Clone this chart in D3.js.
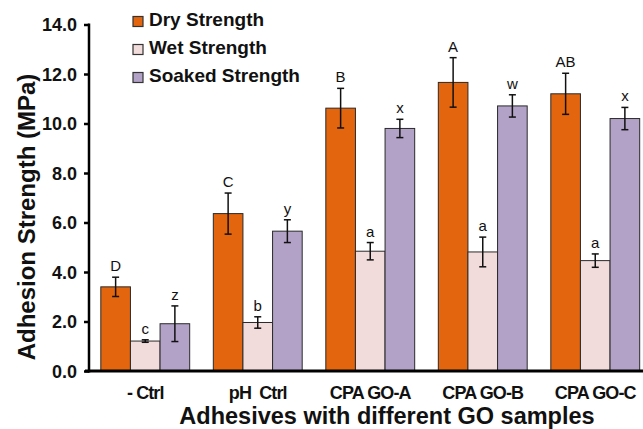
<!DOCTYPE html>
<html>
<head>
<meta charset="utf-8">
<script src="https://d3js.org/d3.v7.min.js"></script>
<style>
  body { margin: 0; background: #fff; }
  text { font-family: "Liberation Sans", Arial, sans-serif; }
</style>
</head>
<body>
<script>
    // data
    var samples = ["- Ctrl", "pH  Ctrl", "CPA GO-A", "CPA GO-B", "CPA GO-C"];
    var seriesNames = ["Dry Strength", "Wet Strength", "Soaked Strength"];
    var seriesKeys = ["dry", "wet", "soaked"];
    var colors = ["#E3650D", "#F2DCDB", "#B3A2C7"];

    var dryVals = [3.40, 6.36, 10.62, 11.66, 11.20];
    var dryErr = [0.39, 0.83, 0.80, 1.00, 0.83];
    var dryLetters = ["D", "C", "B", "A", "AB"];

    var wetVals = [1.21, 1.96, 4.84, 4.81, 4.46];
    var wetErr = [0.05, 0.23, 0.35, 0.60, 0.27];
    var wetLetters = ["c", "b", "a", "a", "a"];

    var soakVals = [1.91, 5.65, 9.80, 10.71, 10.20];
    var soakErr = [0.72, 0.46, 0.37, 0.45, 0.45];
    var soakLetters = ["z", "y", "x", "w", "x"];

    var yTicks = [0, 2, 4, 6, 8, 10, 12, 14];

    var svgWidth = 643, svgHeight = 429;
    var originX = 89, originY = 371, topY = 24.5;

    var values = [dryVals, wetVals, soakVals];
    var errs = [dryErr, wetErr, soakErr];
    var letters = [dryLetters, wetLetters, soakLetters];

    // flat table for drawing
    var rows = [];
    samples.forEach(function (s, i) {
        seriesKeys.forEach(function (k, j) {
            rows.push({sample: s, key: k, v: values[j][i], e: errs[j][i], lab: letters[j][i], c: colors[j]});
        });
    });

    var svg = d3.select("body").append("svg")
        .attr("width", svgWidth)
        .attr("height", svgHeight);

    var x0 = d3.scaleBand().domain(samples).range([originX, originX + 5 * 112.5])
        .paddingInner(0.21).paddingOuter(0.105);
    var x1 = d3.scaleBand().domain(seriesKeys).range([0, x0.bandwidth()]);
    var y = d3.scaleLinear().domain([0, 14]).range([originY, topY]);

    // bars
    var bars = svg.append("g");
    bars.selectAll("rect").data(rows).enter().append("rect")
        .attr("x", function (d) { return x0(d.sample) + x1(d.key); })
        .attr("y", function (d) { return y(d.v); })
        .attr("width", x1.bandwidth())
        .attr("height", function (d) { return y(0) - y(d.v); })
        .style("fill", function (d) { return d.c; })
        .style("stroke", "#2a2a2a")
        .style("stroke-width", 1);

    // error bars
    var eb = svg.append("g").style("stroke", "#111").style("stroke-width", 1.5);
    rows.forEach(function (d) {
        var cx = x0(d.sample) + x1(d.key) + x1.bandwidth() / 2;
        eb.append("line").attr("x1", cx).attr("x2", cx).attr("y1", y(d.v + d.e)).attr("y2", y(d.v - d.e));
        eb.append("line").attr("x1", cx - 3.5).attr("x2", cx + 3.5).attr("y1", y(d.v + d.e)).attr("y2", y(d.v + d.e));
        eb.append("line").attr("x1", cx - 3.5).attr("x2", cx + 3.5).attr("y1", y(d.v - d.e)).attr("y2", y(d.v - d.e));
    });

    // significance letters
    svg.append("g").selectAll("text").data(rows).enter().append("text")
        .attr("x", function (d) { return x0(d.sample) + x1(d.key) + x1.bandwidth() / 2; })
        .attr("y", function (d) { return y(d.v + d.e) - 6; })
        .attr("text-anchor", "middle")
        .style("font-size", "15px")
        .style("fill", "#111")
        .text(function (d) { return d.lab; });

    // y axis
    var yAxis = d3.axisLeft(y).tickValues(yTicks).tickFormat(d3.format(".1f")).tickSize(5).tickPadding(7);
    var yg = svg.append("g").attr("transform", "translate(" + originX + ",0)").call(yAxis);
    yg.select(".domain").remove();
    yg.selectAll(".tick line").style("stroke", "#000").style("stroke-width", 2.5);
    yg.selectAll(".tick text").style("font-size", "18px").style("font-weight", "bold").style("fill", "#111")
        .attr("dy", "0.36em");
    svg.append("line").attr("x1", originX).attr("x2", originX).attr("y1", topY - 1).attr("y2", originY + 1.5)
        .style("stroke", "#000").style("stroke-width", 2.5);

    // x axis
    var xAxis = d3.axisBottom(x0).tickSize(0).tickPadding(15);
    var xg = svg.append("g").attr("transform", "translate(0," + originY + ")").call(xAxis);
    xg.select(".domain").remove();
    xg.selectAll(".tick text").style("font-size", "18px").style("font-weight", "bold")
        .style("letter-spacing", "-0.9px").style("fill", "#111").style("white-space", "pre");
    svg.append("line").attr("x1", originX - 4).attr("x2", svgWidth).attr("y1", originY).attr("y2", originY)
        .style("stroke", "#000").style("stroke-width", 3);

    // axis titles
    svg.append("text")
        .attr("x", 387).attr("y", 424)
        .attr("text-anchor", "middle")
        .style("font-size", "23.5px").style("font-weight", "bold").style("fill", "#111")
        .text("Adhesives with different GO samples");
    svg.append("text")
        .attr("transform", "translate(35,217) rotate(-90)")
        .attr("text-anchor", "middle")
        .style("font-size", "24px").style("font-weight", "bold").style("fill", "#111")
        .text("Adhesion Strength (MPa)");

    // legend
    var legend = svg.append("g");
    seriesNames.forEach(function (n, j) {
        var ly = 26 + j * 28;
        legend.append("rect").attr("x", 133).attr("y", ly - 9.5).attr("width", 10).attr("height", 10)
            .style("fill", colors[j]).style("stroke", "#333").style("stroke-width", 1.2);
        legend.append("text").attr("x", 149).attr("y", ly)
            .style("font-size", "19px").style("font-weight", "bold").style("fill", "#111")
            .text(n);
    });
</script>
</body>
</html>
